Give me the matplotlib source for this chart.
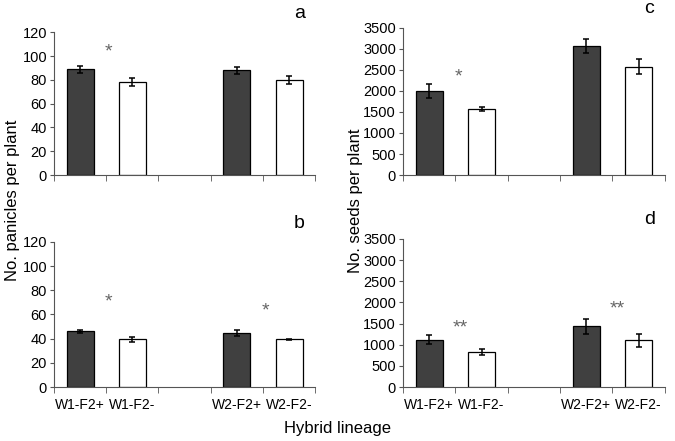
import numpy as np
import matplotlib
matplotlib.use('Agg')
import matplotlib.pyplot as plt

plt.rcParams['font.family'] = ['Liberation Sans', 'DejaVu Sans']

labels = ['W1-F2+', 'W1-F2-', '', 'W2-F2+', 'W2-F2-']
pos = [0, 1, 3, 4]
bar_cols = ['#404040', 'white', '#404040', 'white']

pan_a = [89, 78, 88, 80]
pan_a_err = [3, 3.5, 3, 3.5]
pan_b = [46, 39.5, 45, 39.5]
pan_b_err = [1, 2, 2.5, 0.5]
seed_c = [1990, 1570, 3060, 2570]
seed_c_err = [170, 50, 170, 180]
seed_d = [1120, 820, 1430, 1100]
seed_d_err = [110, 70, 170, 160]

# significance marks: (x, y, text)
stars_a = [(0.55, 103, '*')]
stars_b = [(0.55, 70, '*'), (3.55, 63, '*')]
stars_c = [(0.55, 2320, '*')]
stars_d = [(0.6, 1400, '**'), (3.6, 1840, '**')]

fig = plt.figure(figsize=(6.75, 4.41), dpi=100)
ax_a = fig.add_axes([0.08, 0.603, 0.387, 0.324])
ax_b = fig.add_axes([0.08, 0.1224, 0.387, 0.329])
ax_c = fig.add_axes([0.597, 0.603, 0.388, 0.334])
ax_d = fig.add_axes([0.597, 0.1224, 0.388, 0.336])

panels = [
    (ax_a, pan_a, pan_a_err, stars_a, 'a', 120, 20, False),
    (ax_b, pan_b, pan_b_err, stars_b, 'b', 120, 20, True),
    (ax_c, seed_c, seed_c_err, stars_c, 'c', 3500, 500, False),
    (ax_d, seed_d, seed_d_err, stars_d, 'd', 3500, 500, True),
]

for ax, vals, errs, stars, letter, ymax, step, show_x in panels:
    ax.bar(pos, vals, width=0.52, color=bar_cols, edgecolor='black', linewidth=0.9,
           yerr=errs, error_kw=dict(ecolor='black', elinewidth=1.1, capsize=2.5, capthick=1.1))
    ax.set_xlim(-0.5, 4.5)
    ax.set_ylim(0, ymax)
    ax.set_yticks(np.arange(0, ymax + 1, step))
    ax.set_xticks(range(5))
    ax.set_xticks(np.arange(-0.5, 5, 1), minor=True)
    ax.tick_params(axis='x', which='major', length=0, labelsize=10, pad=8)
    ax.tick_params(axis='x', which='minor', length=4, direction='out', color='#555555')
    ax.tick_params(axis='y', length=3, direction='out', labelsize=10.5, color='#555555', pad=2)
    if show_x:
        ax.set_xticklabels(labels)
    else:
        ax.set_xticklabels([''] * 5)
    for s in ['top', 'right']:
        ax.spines[s].set_visible(False)
    for s in ['left', 'bottom']:
        ax.spines[s].set_color('#555555')
    for x, y, t in stars:
        ax.text(x, y, t, ha='center', va='center', fontsize=14, color='#666666')
    ax.text(4.2, ymax * 1.13, letter, ha='center', va='center', fontsize=14)

fig.text(0.018, 0.545, 'No. panicles per plant', rotation=90, ha='center', va='center', fontsize=12)
fig.text(0.527, 0.545, 'No. seeds per plant', rotation=90, ha='center', va='center', fontsize=12)
fig.text(0.5, 0.028, 'Hybrid lineage', ha='center', va='center', fontsize=12)

fig.savefig('out.png', dpi=100)
